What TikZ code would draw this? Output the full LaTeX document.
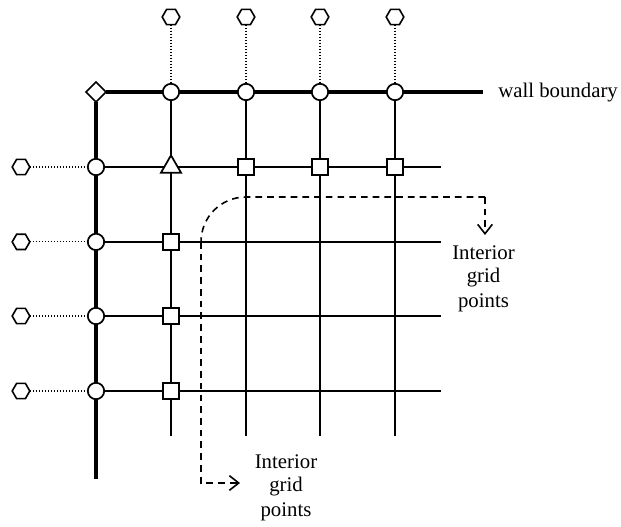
\documentclass[tikz,border=0pt]{standalone}
\usepackage{fontspec}
\setmainfont{Liberation Serif}
\usetikzlibrary{shapes.geometric,arrows.meta,backgrounds}
\tikzset{
  mk/.style={draw=black,fill=white,line width=1.3pt,inner sep=0pt,outer sep=0pt},
  circ/.style={mk,circle,minimum size=12.3pt},
  sq/.style={mk,rectangle,minimum size=12pt},
  hexa/.style={mk,regular polygon,regular polygon sides=6,minimum size=13.2pt,line width=1.2pt},
  tri/.style={mk,regular polygon,regular polygon sides=3,minimum size=17.5pt},
  dia/.style={mk,diamond,minimum size=15pt,line width=1.2pt},
  gridline/.style={line width=1.2pt},
  wall/.style={line width=2.8pt},
  dots/.style={line width=0.85pt,dash pattern=on 0.95pt off 1.3pt},
  dash line/.style={line width=1.2pt,dash pattern=on 5pt off 3.8pt,-{Straight Barb[length=7pt,width=11pt,line width=1.2pt]}},
  lab/.style={inner sep=0pt,font=\fontsize{15.6}{16}\selectfont},
}
\begin{document}
\begin{tikzpicture}[x=0.75pt,y=-0.75pt]
\useasboundingbox (0,0) rectangle (621,527);
% markers
\node[dia] (d) at (96,92) {};
\foreach \n/\x in {1/171,2/246,3/320,4/395} {
  \node[circ] (tc\n) at (\x,92) {};
  \node[hexa] (th\n) at (\x,17) {};
  \coordinate (bot\n) at (\x,436);
}
\foreach \n/\y in {1/167,2/241.9,3/316,4/391} {
  \node[circ] (lc\n) at (96,\y) {};
  \node[hexa] (lh\n) at (21,\y) {};
  \coordinate (end\n) at (441,\y);
}
\node[tri] (t) at (171,167) {};
\node[sq] (a2) at (246,167) {};
\node[sq] (a3) at (320,167) {};
\node[sq] (a4) at (395,167) {};
\node[sq] (b2) at (171,241.9) {};
\node[sq] (b3) at (171,316) {};
\node[sq] (b4) at (171,391) {};
\coordinate (wallE) at (483,92);
\coordinate (wallS) at (96,479);
\node[lab,anchor=west] (wl) at (498,92.5) {wall boundary};
\node[lab] (i1a) at (483.5,253) {Interior};
\node[lab] (i1b) at (483.5,278) {grid};
\node[lab] (i1c) at (483.5,303) {points};
\node[lab] (i2a) at (286,462) {Interior};
\node[lab] (i2b) at (286,487) {grid};
\node[lab] (i2c) at (286,512) {points};
\coordinate (da) at (485,197);
\coordinate (db) at (246,197);
\coordinate (dc) at (201,242);
\coordinate (dd) at (201,483);
\coordinate (tipA) at (485,235);
\coordinate (tipB) at (240,483);
\begin{scope}[on background layer]
  \draw[wall] (d) -- (tc1) -- (tc2) -- (tc3) -- (tc4) -- (wallE);
  \draw[wall] (d) -- (lc1) -- (lc2) -- (lc3) -- (lc4) -- (wallS);
  \draw[gridline] (tc1) -- (t) -- (b2) -- (b3) -- (b4) -- (bot1);
  \draw[gridline] (tc2) -- (a2) -- (bot2);
  \draw[gridline] (tc3) -- (a3) -- (bot3);
  \draw[gridline] (tc4) -- (a4) -- (bot4);
  \draw[gridline] (lc1) -- (t) -- (a2) -- (a3) -- (a4) -- (end1);
  \draw[gridline] (lc2) -- (b2) -- (end2);
  \draw[gridline] (lc3) -- (b3) -- (end3);
  \draw[gridline] (lc4) -- (b4) -- (end4);
  \foreach \n in {1,2,3,4} {
    \draw[dots] (th\n) -- (tc\n);
    \draw[dots] (lh\n) -- (lc\n);
  }
\end{scope}
\draw[dash line] (da) -- (tipA);
\draw[line width=1.2pt,dash pattern=on 5pt off 3.8pt] (da) -- (db) .. controls (221,197) and (201,217) .. (dc);
\draw[dash line] (dc) -- (dd) -- (tipB);
\end{tikzpicture}
\end{document}
